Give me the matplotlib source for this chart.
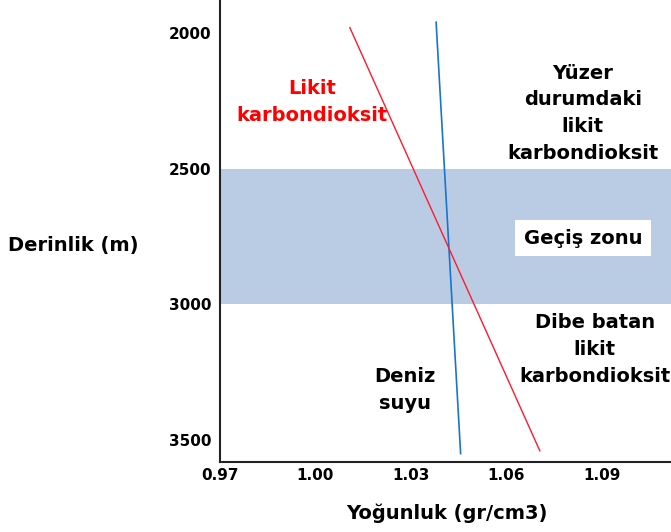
import matplotlib.pyplot as plt

# depth (m) / density (gr/cm3)
deniz_derinlik = [1960, 3550]
deniz_yogunluk = [1.0379, 1.0456]
co2_derinlik = [1980, 3540]
co2_yogunluk = [1.0108, 1.0705]

gecis_zonu = (2500, 3000)
x_ticks = [0.97, 1.00, 1.03, 1.06, 1.09]
y_ticks = [2000, 2500, 3000, 3500]

fig = plt.figure(figsize=(6.71, 5.32), dpi=100)
ax = fig.add_axes([220/671, 70/532, 451/671, 462/532])

ax.axhspan(gecis_zonu[0], gecis_zonu[1], color="#b9cce4", lw=0, zorder=0)
ax.plot(deniz_yogunluk, deniz_derinlik, color="#1874cd", lw=1.2)
ax.plot(co2_yogunluk, co2_derinlik, color="#ff1a2e", lw=1.0)

ax.set_xlim(0.97, 1.1117)
ax.set_ylim(3581, 1878)
ax.set_xticks(x_ticks)
ax.set_xticklabels([f"{v:.2f}" for v in x_ticks], fontweight="bold", fontsize=11)
ax.set_yticks(y_ticks)
ax.set_yticklabels([str(v) for v in y_ticks], fontweight="bold", fontsize=11)
ax.tick_params(axis="x", length=0, pad=4)
ax.tick_params(axis="y", length=0, pad=6)
for s in ["top", "right"]:
    ax.spines[s].set_visible(False)
for s in ["left", "bottom"]:
    ax.spines[s].set_linewidth(1.5)
    ax.spines[s].set_color("#222222")

kw = dict(fontweight="bold", fontsize=14, ha="center", va="center", linespacing=1.52)
ax.text(0.9989, 2254, "Likit\nkarbondioksit", color="#ff0000", **kw)
ax.text(1.084, 2296, "Yüzer\ndurumdaki\nlikit\nkarbondioksit", **kw)
ax.text(1.0878, 3167, "Dibe batan\nlikit\nkarbondioksit", **kw)
ax.text(1.0281, 3315, "Deniz\nsuyu", **kw)
ax.text(1.0842, 2756, "Geçiş zonu", fontweight="bold", fontsize=14, ha="center", va="center",
        bbox=dict(boxstyle="square,pad=0.45", fc="white", ec="none"))

fig.text(73/671, 1 - 246/532, "Derinlik (m)", fontweight="bold", fontsize=14, ha="center", va="center")
fig.text(447/671, 1 - 513/532, "Yoğunluk (gr/cm3)", fontweight="bold", fontsize=14, ha="center", va="center")

fig.savefig("out.png", dpi=100)
